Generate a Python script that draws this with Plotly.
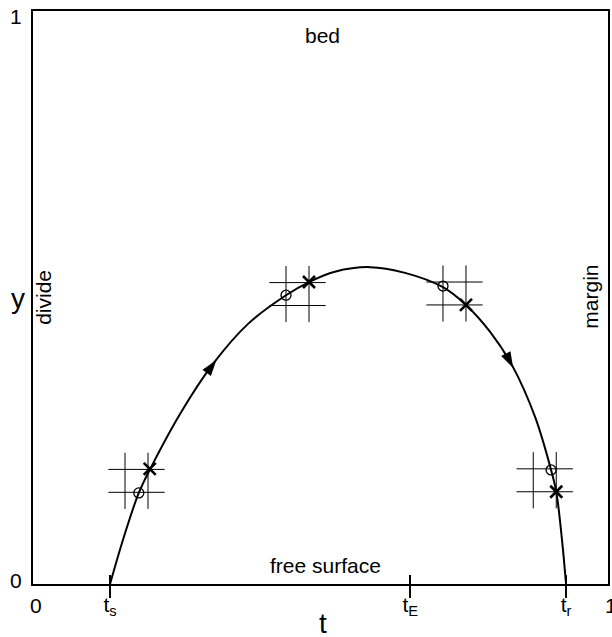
import plotly.graph_objects as go

# ---- data ----
curve_t = [0.134, 0.158, 0.184, 0.204, 0.256, 0.313, 0.374, 0.440, 0.480, 0.525, 0.586,
           0.647, 0.713, 0.753, 0.795, 0.833, 0.873, 0.901, 0.910, 0.920, 0.927]
curve_y = [0.000, 0.082, 0.159, 0.201, 0.297, 0.384, 0.454, 0.504, 0.527, 0.545, 0.553,
           0.543, 0.518, 0.487, 0.440, 0.382, 0.292, 0.199, 0.161, 0.077, 0.000]

arrow_t = [0.319, 0.835]
arrow_y = [0.391, 0.377]
arrow_angle = [37, 153]

grid_t0 = [0.160, 0.440, 0.713, 0.870]   # lower-left grid node
grid_y0 = [0.160, 0.486, 0.487, 0.161]
grid_step = 0.04
grid_ext = 0.029

cross_t = [0.203, 0.480, 0.753, 0.910]
cross_y = [0.201, 0.527, 0.487, 0.161]
circle_t = [0.184, 0.440, 0.713, 0.901]
circle_y = [0.159, 0.504, 0.520, 0.199]

xtick_vals = [0.134, 0.656, 0.927]
xtick_text = ["t<sub>s</sub>", "t<sub>E</sub>", "t<sub>r</sub>"]
xend_vals = [0, 1]
xend_text = ["0", "1"]
ytick_vals = [0, 1]
ytick_text = ["0", "1"]

FONT = "Arial, Liberation Sans, sans-serif"
FS = 21

fig = go.Figure()

# grid "#" marks
gx, gy = [], []
for x0, y0 in zip(grid_t0, grid_y0):
    for k in range(2):
        xv = x0 + k * grid_step
        gx += [xv, xv, None]
        gy += [y0 - grid_ext, y0 + grid_step + grid_ext, None]
        yh = y0 + k * grid_step
        gx += [x0 - grid_ext, x0 + grid_step + grid_ext, None]
        gy += [yh, yh, None]
fig.add_trace(go.Scatter(x=gx, y=gy, mode="lines", line=dict(color="black", width=1),
                         hoverinfo="skip", showlegend=False))

# curve
fig.add_trace(go.Scatter(x=curve_t, y=curve_y, mode="lines",
                         line=dict(color="black", width=2, shape="spline", smoothing=1.0),
                         showlegend=False))

# arrows
fig.add_trace(go.Scatter(x=arrow_t, y=arrow_y, mode="markers",
                         marker=dict(symbol="arrow", size=17, angle=arrow_angle, color="black",
                                     line=dict(width=0)),
                         showlegend=False))

# circles and crosses
fig.add_trace(go.Scatter(x=circle_t, y=circle_y, mode="markers",
                         marker=dict(symbol="circle-open", size=10, color="black",
                                     line=dict(width=1.3, color="black")),
                         showlegend=False))
fig.add_trace(go.Scatter(x=cross_t, y=cross_y, mode="markers",
                         marker=dict(symbol="x-thin", size=12,
                                     line=dict(width=2.6, color="black")),
                         showlegend=False))

# dummy trace for second x axis (inside ticks)
fig.add_trace(go.Scatter(x=[0, 1], y=[0, 0], xaxis="x2", mode="markers",
                         marker=dict(opacity=0), hoverinfo="skip", showlegend=False))

fig.update_layout(
    width=612, height=637,
    margin=dict(l=33, r=4, t=11, b=53),
    paper_bgcolor="white", plot_bgcolor="white",
    font=dict(family=FONT, size=FS, color="black"),
    xaxis=dict(range=[0, 1], showgrid=False, zeroline=False, automargin=False,
               showline=True, linecolor="black", linewidth=1.5, mirror=True,
               tickmode="array", tickvals=xtick_vals, ticktext=xtick_text,
               ticks="outside", ticklen=12, tickwidth=1.5, tickcolor="black",
               ticklabelstandoff=-11,
               tickfont=dict(size=FS, family=FONT)),
    xaxis2=dict(range=[0, 1], overlaying="x", anchor="y", side="bottom", automargin=False,
                showgrid=False, zeroline=False, showline=False,
                tickmode="array", tickvals=xtick_vals, showticklabels=False,
                ticks="inside", ticklen=9, tickwidth=1.5, tickcolor="black"),
    yaxis=dict(range=[0, 1], showgrid=False, zeroline=False, automargin=False,
               showline=True, linecolor="black", linewidth=1.5, mirror=True,
               showticklabels=False, ticks=""),
)

ann = []
for v, t in zip(xend_vals, xend_text):
    ann.append(dict(x=v, y=0, xref="x", yref="y", text=t, showarrow=False,
                    xanchor="center", yanchor="middle", yshift=-21, xshift=3,
                    font=dict(size=FS)))
for v, t in zip(ytick_vals, ytick_text):
    ann.append(dict(x=0, y=v, xref="paper", yref="y", text=t, showarrow=False,
                    xanchor="center", yanchor="middle", xshift=-17,
                    yshift=(4 if v == 0 else -5), font=dict(size=FS)))
ann += [
    dict(x=0.5, y=0, xref="paper", yref="paper", text="t", showarrow=False,
         xanchor="center", yanchor="middle", yshift=-39, xshift=2, font=dict(size=28)),
    dict(x=0, y=0.5, xref="paper", yref="paper", text="y", showarrow=False,
         xanchor="center", yanchor="middle", xshift=-15, yshift=-1, font=dict(size=28)),
    dict(x=0.503, y=0.958, xref="x", yref="y", text="bed", showarrow=False),
    dict(x=0.508, y=0.033, xref="x", yref="y", text="free surface", showarrow=False),
    dict(x=0.019, y=0.501, xref="x", yref="y", text="divide", showarrow=False, textangle=-90),
    dict(x=0.970, y=0.501, xref="x", yref="y", text="margin", showarrow=False, textangle=-90),
]
fig.update_layout(annotations=ann)

fig.write_html("out.html", config={"displayModeBar": False},
               post_script="document.body.style.margin='0';document.body.style.padding='0';")
